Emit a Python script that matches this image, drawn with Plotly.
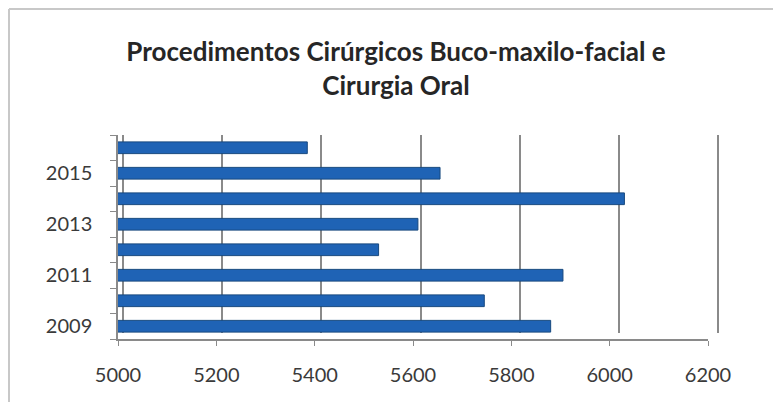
import plotly.graph_objects as go

# data
years = [2009, 2010, 2011, 2012, 2013, 2014, 2015, 2016]
procedures = [5880, 5745, 5905, 5530, 5610, 6030, 5655, 5385]
year_labels = [2009, 2011, 2013, 2015]
x_ticks = [5000, 5200, 5400, 5600, 5800, 6000, 6200]

title_text = "Procedimentos Cirúrgicos Buco-maxilo-facial e<br>Cirurgia Oral"

# page body has an 8px margin, so the figure is sized to the visible area
W, H = 773, 394
L, R, T, B = 110, 58, 127, 63
plot_w = W - L - R
plot_h = H - T - B

grid_col = "#8a8a8a"
text_col = "#3a3a3a"

fig = go.Figure()

# back wall subplot (x/y) is drawn first, so its gridlines sit behind the bars
fig.add_trace(go.Scatter(x=[x_ticks[0]], y=[0], xaxis="x", yaxis="y",
                         mode="markers", marker=dict(opacity=0), showlegend=False,
                         hoverinfo="skip"))

fig.add_trace(go.Bar(
    x=procedures,
    y=years,
    xaxis="x2", yaxis="y2",
    orientation="h",
    width=0.46,
    base=0,
    marker=dict(color="#1f63b5", line=dict(color="#17497f", width=1)),
    showlegend=False,
    hoverinfo="x+y",
))

fig.update_layout(
    width=W, height=H,
    margin=dict(l=L, r=R, t=T, b=B, autoexpand=False),
    paper_bgcolor="white",
    plot_bgcolor="rgba(0,0,0,0)",
    font=dict(family="Lato, 'Open Sans', sans-serif", size=20, color=text_col),
    title=dict(
        text=title_text,
        x=388 / W, xanchor="center",
        y=0.866, yanchor="top",
        font=dict(family="Lato, sans-serif", size=26, color="#262626", weight="bold"),
    ),
    # back wall gridlines (slight 3D offset), padded range so end lines show
    xaxis=dict(
        domain=[0, 1],
        range=[4990, 6210],
        tickvals=x_ticks,
        showgrid=True, gridcolor=grid_col, gridwidth=1.5,
        showticklabels=False, zeroline=False, showline=False,
        anchor="y",
    ),
    yaxis=dict(
        domain=[6 / plot_h, 1],
        range=[0, 1],
        showgrid=False, showticklabels=False, zeroline=False, showline=False,
        anchor="x",
    ),
    # front axes (bars + tick labels)
    xaxis2=dict(
        domain=[0, 590 / plot_w],
        range=[5000, 6200],
        tickvals=x_ticks,
        showgrid=False,
        zeroline=False,
        showline=True, linecolor=grid_col, linewidth=1.5,
        ticks="outside", ticklen=5, tickcolor=grid_col,
        ticklabelstandoff=12,
        anchor="y2",
    ),
    yaxis2=dict(
        domain=[0, 1],
        range=[2008.5, 2016.5],
        tickvals=year_labels,
        showgrid=False,
        zeroline=False,
        showline=True, linecolor=grid_col, linewidth=1.5,
        ticks="outside", ticklen=0, tickcolor="rgba(0,0,0,0)",
        ticklabelstandoff=20,
        minor=dict(tick0=2008.5, dtick=1, ticks="outside", ticklen=6,
                   tickcolor=grid_col, showgrid=False),
        anchor="x2",
    ),
    shapes=[
        # chart frame (top and left edges)
        dict(type="line", xref="paper", yref="paper",
             x0=(1 - L) / plot_w, x1=(W - L) / plot_w,
             y0=(H - 1 - B) / plot_h, y1=(H - 1 - B) / plot_h,
             line=dict(color="#c8c8c8", width=2)),
        dict(type="line", xref="paper", yref="paper",
             x0=(1 - L) / plot_w, x1=(1 - L) / plot_w,
             y0=(H - 1 - B) / plot_h, y1=-B / plot_h,
             line=dict(color="#c8c8c8", width=2)),
    ],
)

fig.write_html("out.html")
